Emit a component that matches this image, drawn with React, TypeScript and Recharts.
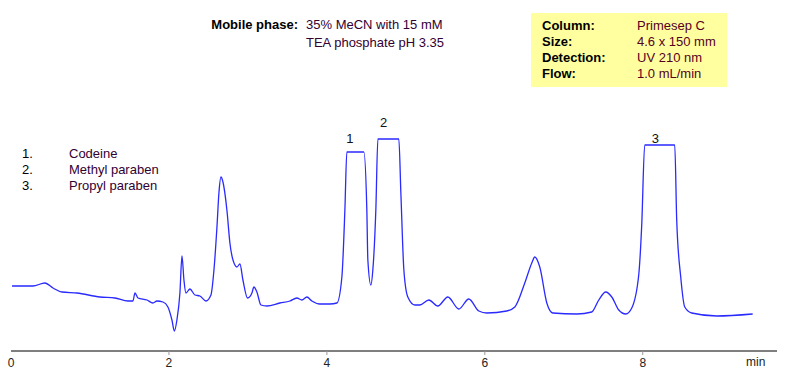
import { LineChart, Line, XAxis, YAxis, ReferenceDot } from 'recharts';

// retention time (min) and detector signal (arbitrary units)
const times = [
  0.013, 0.278, 0.43, 0.532, 0.646, 0.835, 1.127, 1.316, 1.481, 1.544, 1.57, 1.608,
  1.722, 1.797, 1.848, 1.924, 1.987, 2.038, 2.069, 2.101, 2.139, 2.165, 2.19, 2.215,
  2.266, 2.329, 2.392, 2.468, 2.532, 2.57, 2.608, 2.633, 2.658, 2.684, 2.734, 2.772,
  2.835, 2.861, 2.899, 2.937, 2.996, 3.051, 3.076, 3.114, 3.165, 3.241, 3.405, 3.532,
  3.62, 3.684, 3.747, 3.81, 3.911, 4.038, 4.127, 4.19, 4.228, 4.253, 4.468, 4.506,
  4.519, 4.557, 4.582, 4.62, 4.646, 4.911, 4.937, 4.975, 5.025, 5.114, 5.177, 5.291,
  5.405, 5.532, 5.671, 5.797, 5.924, 6.025, 6.278, 6.38, 6.506, 6.595, 6.633, 6.696,
  6.785, 6.861, 7.165, 7.354, 7.443, 7.532, 7.608, 7.696, 7.785, 7.861, 7.949, 7.987,
  8.025, 8.405, 8.43, 8.481, 8.532, 8.62, 8.937, 9.392,
];
const signal = [
  65, 65, 68, 63, 59, 58, 54, 53, 50, 50, 58, 53,
  51, 48, 50, 49, 44, 31, 20, 31, 58, 95, 71, 58,
  62, 56, 55, 50, 56, 81, 124, 158, 174, 169, 141, 108,
  86, 84, 87, 71, 53, 58, 64, 59, 46, 45, 48, 50,
  53, 51, 54, 50, 47, 47, 48, 74, 141, 199, 199, 141,
  91, 66, 81, 141, 212, 212, 158, 81, 54, 46, 46, 51,
  45, 54, 42, 52, 40, 38, 40, 44, 68, 88, 94, 84,
  48, 38, 37, 39, 51, 59, 54, 41, 37, 43, 76, 126,
  206, 206, 131, 74, 44, 38, 35, 37,
];

const xTicks = [0, 2, 4, 6, 8];

const peakNames = ['Codeine', 'Methyl paraben', 'Propyl paraben'];
const peakLabelTimes = [4.29, 4.72, 8.16];
const peakLabelValues = [208, 224, 208];

const boxLabels = ['Column:', 'Size:', 'Detection:', 'Flow:'];
const boxValues = ['Primesep C', '4.6 x 150 mm', 'UV 210 nm', '1.0 mL/min'];

const mobilePhase = ['35% MeCN with 15 mM', 'TEA phosphate pH 3.35'];

const data = times.map((t, i) => ({ t, v: signal[i] }));

const font = '"Liberation Sans", Arial, sans-serif';

const Tick = (props: any) => {
  const { x, y, payload } = props;
  return (
    <g>
      {payload.value !== 0 && <line x1={x} x2={x} y1={y} y2={y + 4} stroke="#999" />}
      <text x={x} y={y + 16} textAnchor="middle" fontSize={12} fontFamily={font} fill="#222">
        {payload.value}
      </text>
    </g>
  );
};

const PeakLabel = (text: string) => (props: any) => {
  const { viewBox } = props;
  return (
    <text x={viewBox.x} y={viewBox.y} textAnchor="middle" fontSize={13} fontFamily={font} fill="#111">
      {text}
    </text>
  );
};

export default function App() {
  return (
    <div style={{ position: 'absolute', left: 0, top: 0, width: 789, height: 387, background: '#fff', fontFamily: font }}>
      <LineChart width={789} height={387} data={data} margin={{ top: 100, right: 12, bottom: 6, left: 11 }}>
        <XAxis
          dataKey="t"
          type="number"
          domain={[0, 9.7]}
          ticks={xTicks}
          height={30}
          tickSize={0}
          tickMargin={0}
          tick={<Tick />}
          axisLine={{ stroke: '#000', strokeWidth: 1.2 }}
          tickLine={false}
        />
        <YAxis hide domain={[0, 251]} />
        <Line
          type="monotone"
          dataKey="v"
          stroke="#2a2aff"
          strokeWidth={1.3}
          dot={false}
          isAnimationActive={false}
        />
        {peakLabelTimes.map((t, i) => (
          <ReferenceDot key={i} x={t} y={peakLabelValues[i]} r={0} label={PeakLabel(String(i + 1))} />
        ))}
      </LineChart>

      <div style={{ position: 'absolute', left: 746, top: 355, fontSize: 12, color: '#222' }}>min</div>

      <div style={{ position: 'absolute', left: 180, top: 17, width: 118, textAlign: 'right', fontSize: 13, fontWeight: 'bold', color: '#000' }}>
        Mobile phase:
      </div>
      {mobilePhase.map((s, i) => (
        <div key={s} style={{ position: 'absolute', left: 306, top: 17 + i * 18, fontSize: 13, color: '#330033', whiteSpace: 'nowrap' }}>
          {s}
        </div>
      ))}

      <div style={{ position: 'absolute', left: 531, top: 13, width: 196, height: 74, background: '#ffffa0' }} />
      {boxLabels.map((s, i) => (
        <div key={s} style={{ position: 'absolute', left: 542, top: 18 + i * 16, fontSize: 13, fontWeight: 'bold', color: '#000' }}>
          {s}
        </div>
      ))}
      {boxValues.map((s, i) => (
        <div key={s} style={{ position: 'absolute', left: 637, top: 18 + i * 16, fontSize: 13, color: '#550022', whiteSpace: 'nowrap' }}>
          {s}
        </div>
      ))}

      {peakNames.map((s, i) => (
        <div key={s}>
          <div style={{ position: 'absolute', left: 22, top: 146 + i * 16, fontSize: 13, color: '#000' }}>{i + 1}.</div>
          <div style={{ position: 'absolute', left: 69, top: 146 + i * 16, fontSize: 13, color: '#330033', whiteSpace: 'nowrap' }}>{s}</div>
        </div>
      ))}
    </div>
  );
}
